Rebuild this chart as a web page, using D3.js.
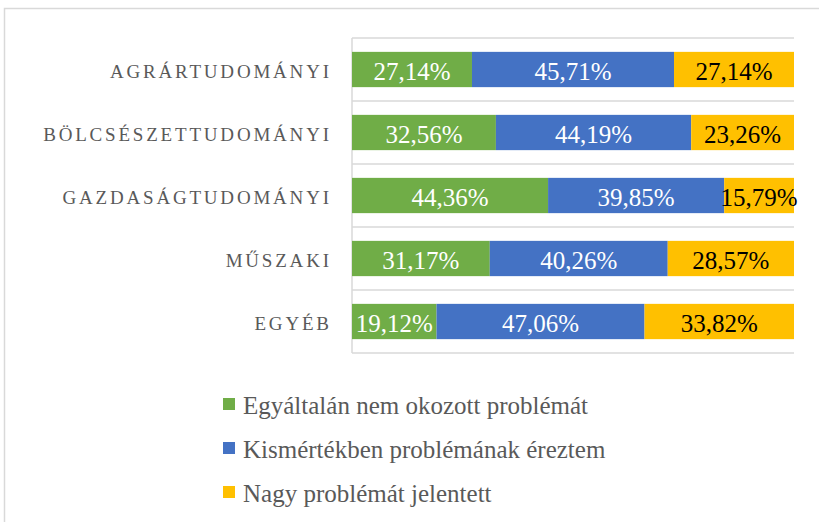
<!DOCTYPE html>
<html>
<head>
<meta charset="utf-8">
<script src="https://cdn.jsdelivr.net/npm/d3@7"></script>
<style>
  body { margin: 0; background: #fff; }
  svg { display: block; font-family: 'Liberation Serif', 'DejaVu Serif', serif; }
</style>
</head>
<body>
<svg id="canvas" width="819" height="522"></svg>
<script>
let categories = ['AGRÁRTUDOMÁNYI', 'BÖLCSÉSZETTUDOMÁNYI', 'GAZDASÁGTUDOMÁNYI', 'MŰSZAKI', 'EGYÉB']
let seriesNames = ['Egyáltalán nem okozott problémát', 'Kismértékben problémának éreztem', 'Nagy problémát jelentett']
let noProblem = [27.14, 32.56, 44.36, 31.17, 19.12]
let smallProblem = [45.71, 44.19, 39.85, 40.26, 47.06]
let bigProblem = [27.14, 23.26, 15.79, 28.57, 33.82]
let colors = ['#70AD47', '#4472C4', '#FFC000']
let labelColors = ['#ffffff', '#ffffff', '#000000']

let rows = categories.map((c, i) => {
  return { category: c, s0: noProblem[i], s1: smallProblem[i], s2: bigProblem[i] }
})

let huLocale = d3.formatLocale({ decimal: ',', thousands: ' ', grouping: [3], currency: ['', ' Ft'] })
let fmt = (v) => huLocale.format('.2f')(v) + '%'

let canvas = d3.select('#canvas')

// chart frame
canvas.append('rect')
      .attr('x', 4.5).attr('y', 8.5)
      .attr('width', 840).attr('height', 540)
      .attr('fill', 'none')
      .attr('stroke', '#D9D9D9')
      .attr('stroke-width', 1.5)

let plotLeft = 352, plotRight = 794, plotTop = 38, plotBottom = 353

let xScale = d3.scaleLinear().domain([0, 1]).range([plotLeft, plotRight])
let yScale = d3.scaleBand().domain(categories).range([plotTop, plotBottom]).paddingInner(0.44).paddingOuter(0.22)

let stacked = d3.stack().keys(['s0', 's1', 's2']).offset(d3.stackOffsetExpand)(rows)

// separators between categories
let sepYs = d3.range(categories.length + 1).map((i) => plotTop + i * (plotBottom - plotTop) / categories.length)
canvas.selectAll('.sep')
      .data(sepYs)
      .enter()
      .append('line')
      .attr('x1', plotLeft).attr('x2', plotRight)
      .attr('y1', (d) => d).attr('y2', (d) => d)
      .attr('stroke', '#D9D9D9')
      .attr('stroke-width', 1.5)

canvas.append('line')
      .attr('x1', plotLeft).attr('x2', plotLeft)
      .attr('y1', plotTop).attr('y2', plotBottom)
      .attr('stroke', '#D9D9D9')
      .attr('stroke-width', 1.5)

let layer = canvas.selectAll('.layer')
                  .data(stacked)
                  .enter()
                  .append('g')
                  .attr('fill', (d, i) => colors[i])

layer.selectAll('rect')
     .data((d) => d)
     .enter()
     .append('rect')
     .attr('x', (d) => xScale(d[0]))
     .attr('y', (d) => yScale(d.data.category))
     .attr('width', (d) => xScale(d[1]) - xScale(d[0]))
     .attr('height', yScale.bandwidth())

stacked.forEach((s, i) => {
  canvas.selectAll('.lbl' + i)
        .data(s)
        .enter()
        .append('text')
        .attr('x', (d) => (xScale(d[0]) + xScale(d[1])) / 2)
        .attr('y', (d) => yScale(d.data.category) + yScale.bandwidth() / 2)
        .attr('dy', '0.4em')
        .attr('text-anchor', 'middle')
        .attr('font-size', 25)
        .attr('fill', labelColors[i])
        .text((d) => fmt(d.data['s' + i]))
})

// category labels
canvas.selectAll('.cat')
      .data(categories)
      .enter()
      .append('text')
      .attr('x', 329 + 2.8)
      .attr('y', (d) => yScale(d) + yScale.bandwidth() / 2)
      .attr('dy', '0.45em')
      .attr('text-anchor', 'end')
      .attr('font-size', 19)
      .attr('letter-spacing', 2.8)
      .attr('fill', '#595959')
      .text((d) => d)

// legend
let legend = canvas.selectAll('.legend')
                   .data(seriesNames)
                   .enter()
                   .append('g')
                   .attr('transform', (d, i) => 'translate(223,' + (398 + i * 44) + ')')

legend.append('rect')
      .attr('width', 12).attr('height', 12)
      .attr('fill', (d, i) => colors[i])

legend.append('text')
      .attr('x', 20)
      .attr('y', 16)
      .attr('font-size', 25)
      .attr('fill', '#595959')
      .text((d) => d)
</script>
</body>
</html>
